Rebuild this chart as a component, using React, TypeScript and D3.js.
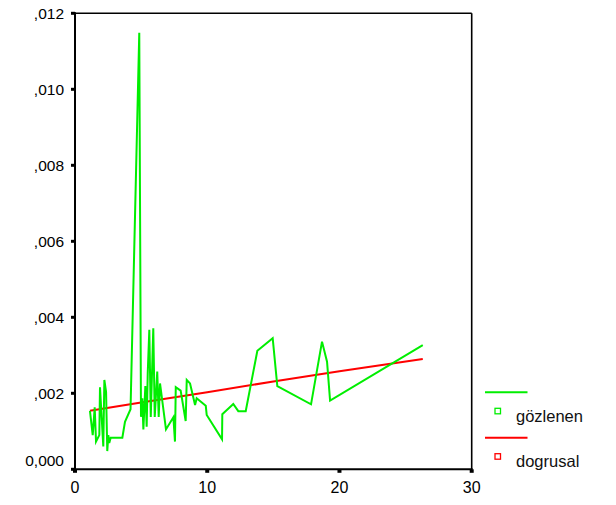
import React from "react";
import * as d3 from "d3";

const obsX = [1.13,1.34,1.49,1.59,1.84,1.89,2.14,2.22,2.35,2.44,2.52,2.59,2.70,3.58,3.78,4.20,4.86,4.99,5.09,5.17,5.32,5.42,5.50,5.62,5.73,5.92,6.03,6.22,6.33,6.43,6.88,7.44,7.56,7.62,7.99,8.37,8.45,8.70,9.08,9.20,9.89,9.96,11.12,11.14,11.97,12.35,12.91,13.79,14.95,15.30,17.85,18.68,19.06,19.29,26.30];
const obsY = [1.54,0.90,1.63,0.73,0.90,2.16,0.60,2.35,2.04,0.48,0.90,0.69,0.83,0.83,1.25,1.58,11.49,1.38,1.87,1.05,2.19,1.12,2.53,3.67,1.38,3.71,1.38,2.57,1.38,2.26,1.05,1.37,0.73,2.16,2.07,1.27,2.35,2.26,1.69,1.87,1.67,1.43,0.79,1.45,1.72,1.53,1.53,3.12,3.45,2.19,1.71,3.36,2.83,1.81,3.27].map(v => v / 1000);

const linX = [1.13, 5, 10, 15, 20, 26.3];
const linY = [1.54, 1.76, 2.03, 2.31, 2.58, 2.90].map(v => v / 1000);

const xTicks = [0, 10, 20, 30];
const xTickLabels = ["0", "10", "20", "30"];
const yTicks = [0, 0.002, 0.004, 0.006, 0.008, 0.010, 0.012];
const yTickLabels = ["0,000", ",002", ",004", ",006", ",008", ",010", ",012"];

const seriesNames = ["gözlenen", "dogrusal"];
const seriesColors = ["#00ee00", "#ff0000"];

export default function App() {
  const left = 75, right = 471.7, top = 13.3, bottom = 469.3;
  const x = d3.scaleLinear().domain([0, 30]).range([left, right]);
  const y = d3.scaleLinear().domain([0, 0.012]).range([bottom, top]);
  const line = d3.line<[number, number]>().x(d => x(d[0])).y(d => y(d[1]));
  const obs: [number, number][] = obsX.map((v, i) => [v, obsY[i]]);
  const lin: [number, number][] = linX.map((v, i) => [v, linY[i]]);
  const font = "'Liberation Sans', Arial, sans-serif";

  return (
    <svg width={616} height={505} style={{ position: "absolute", left: 0, top: 0, background: "#fff" }} fontFamily={font}>
      <rect x={0} y={0} width={616} height={505} fill="#fff" />
      <path d={line(lin) || ""} fill="none" stroke={seriesColors[1]} strokeWidth={2} />
      <path d={line(obs) || ""} fill="none" stroke={seriesColors[0]} strokeWidth={2} strokeLinejoin="miter" />
      {/* frame */}
      <line x1={left} x2={right} y1={top} y2={top} stroke="#000" strokeWidth={1.6} />
      <line x1={right} x2={right} y1={top} y2={bottom} stroke="#000" strokeWidth={1.6} />
      <line x1={left} x2={left} y1={top - 1} y2={bottom + 1} stroke="#000" strokeWidth={2} />
      <line x1={left - 1} x2={right + 1} y1={bottom} y2={bottom} stroke="#000" strokeWidth={2} />
      {yTicks.map((t, i) => (
        <g key={"y" + i}>
          <rect x={left - 4} y={y(t) - 1.5} width={4} height={3} fill="#000" />
          <text x={64} y={i === 0 ? y(t) - 9 : y(t)} dy="0.35em" textAnchor="end" fontSize={15.5} fill="#000">{yTickLabels[i]}</text>
        </g>
      ))}
      {xTicks.map((t, i) => (
        <g key={"x" + i}>
          <rect x={x(t) - 2} y={bottom} width={4} height={3.5} fill="#000" />
          <text x={x(t)} y={493} textAnchor="middle" fontSize={16} fill="#000">{xTickLabels[i]}</text>
        </g>
      ))}
      {/* legend */}
      {seriesNames.map((n, i) => {
        const ly = 392.3 + i * 45.4;
        return (
          <g key={n}>
            <line x1={485} x2={527.5} y1={ly} y2={ly} stroke={seriesColors[i]} strokeWidth={2} />
            <rect x={495} y={ly + 16} width={5.5} height={5.5} fill="none" stroke={seriesColors[i]} strokeWidth={1.3} />
            <text x={516} y={ly + 29.3} fontSize={16.5} fill="#111">{n}</text>
          </g>
        );
      })}
    </svg>
  );
}
